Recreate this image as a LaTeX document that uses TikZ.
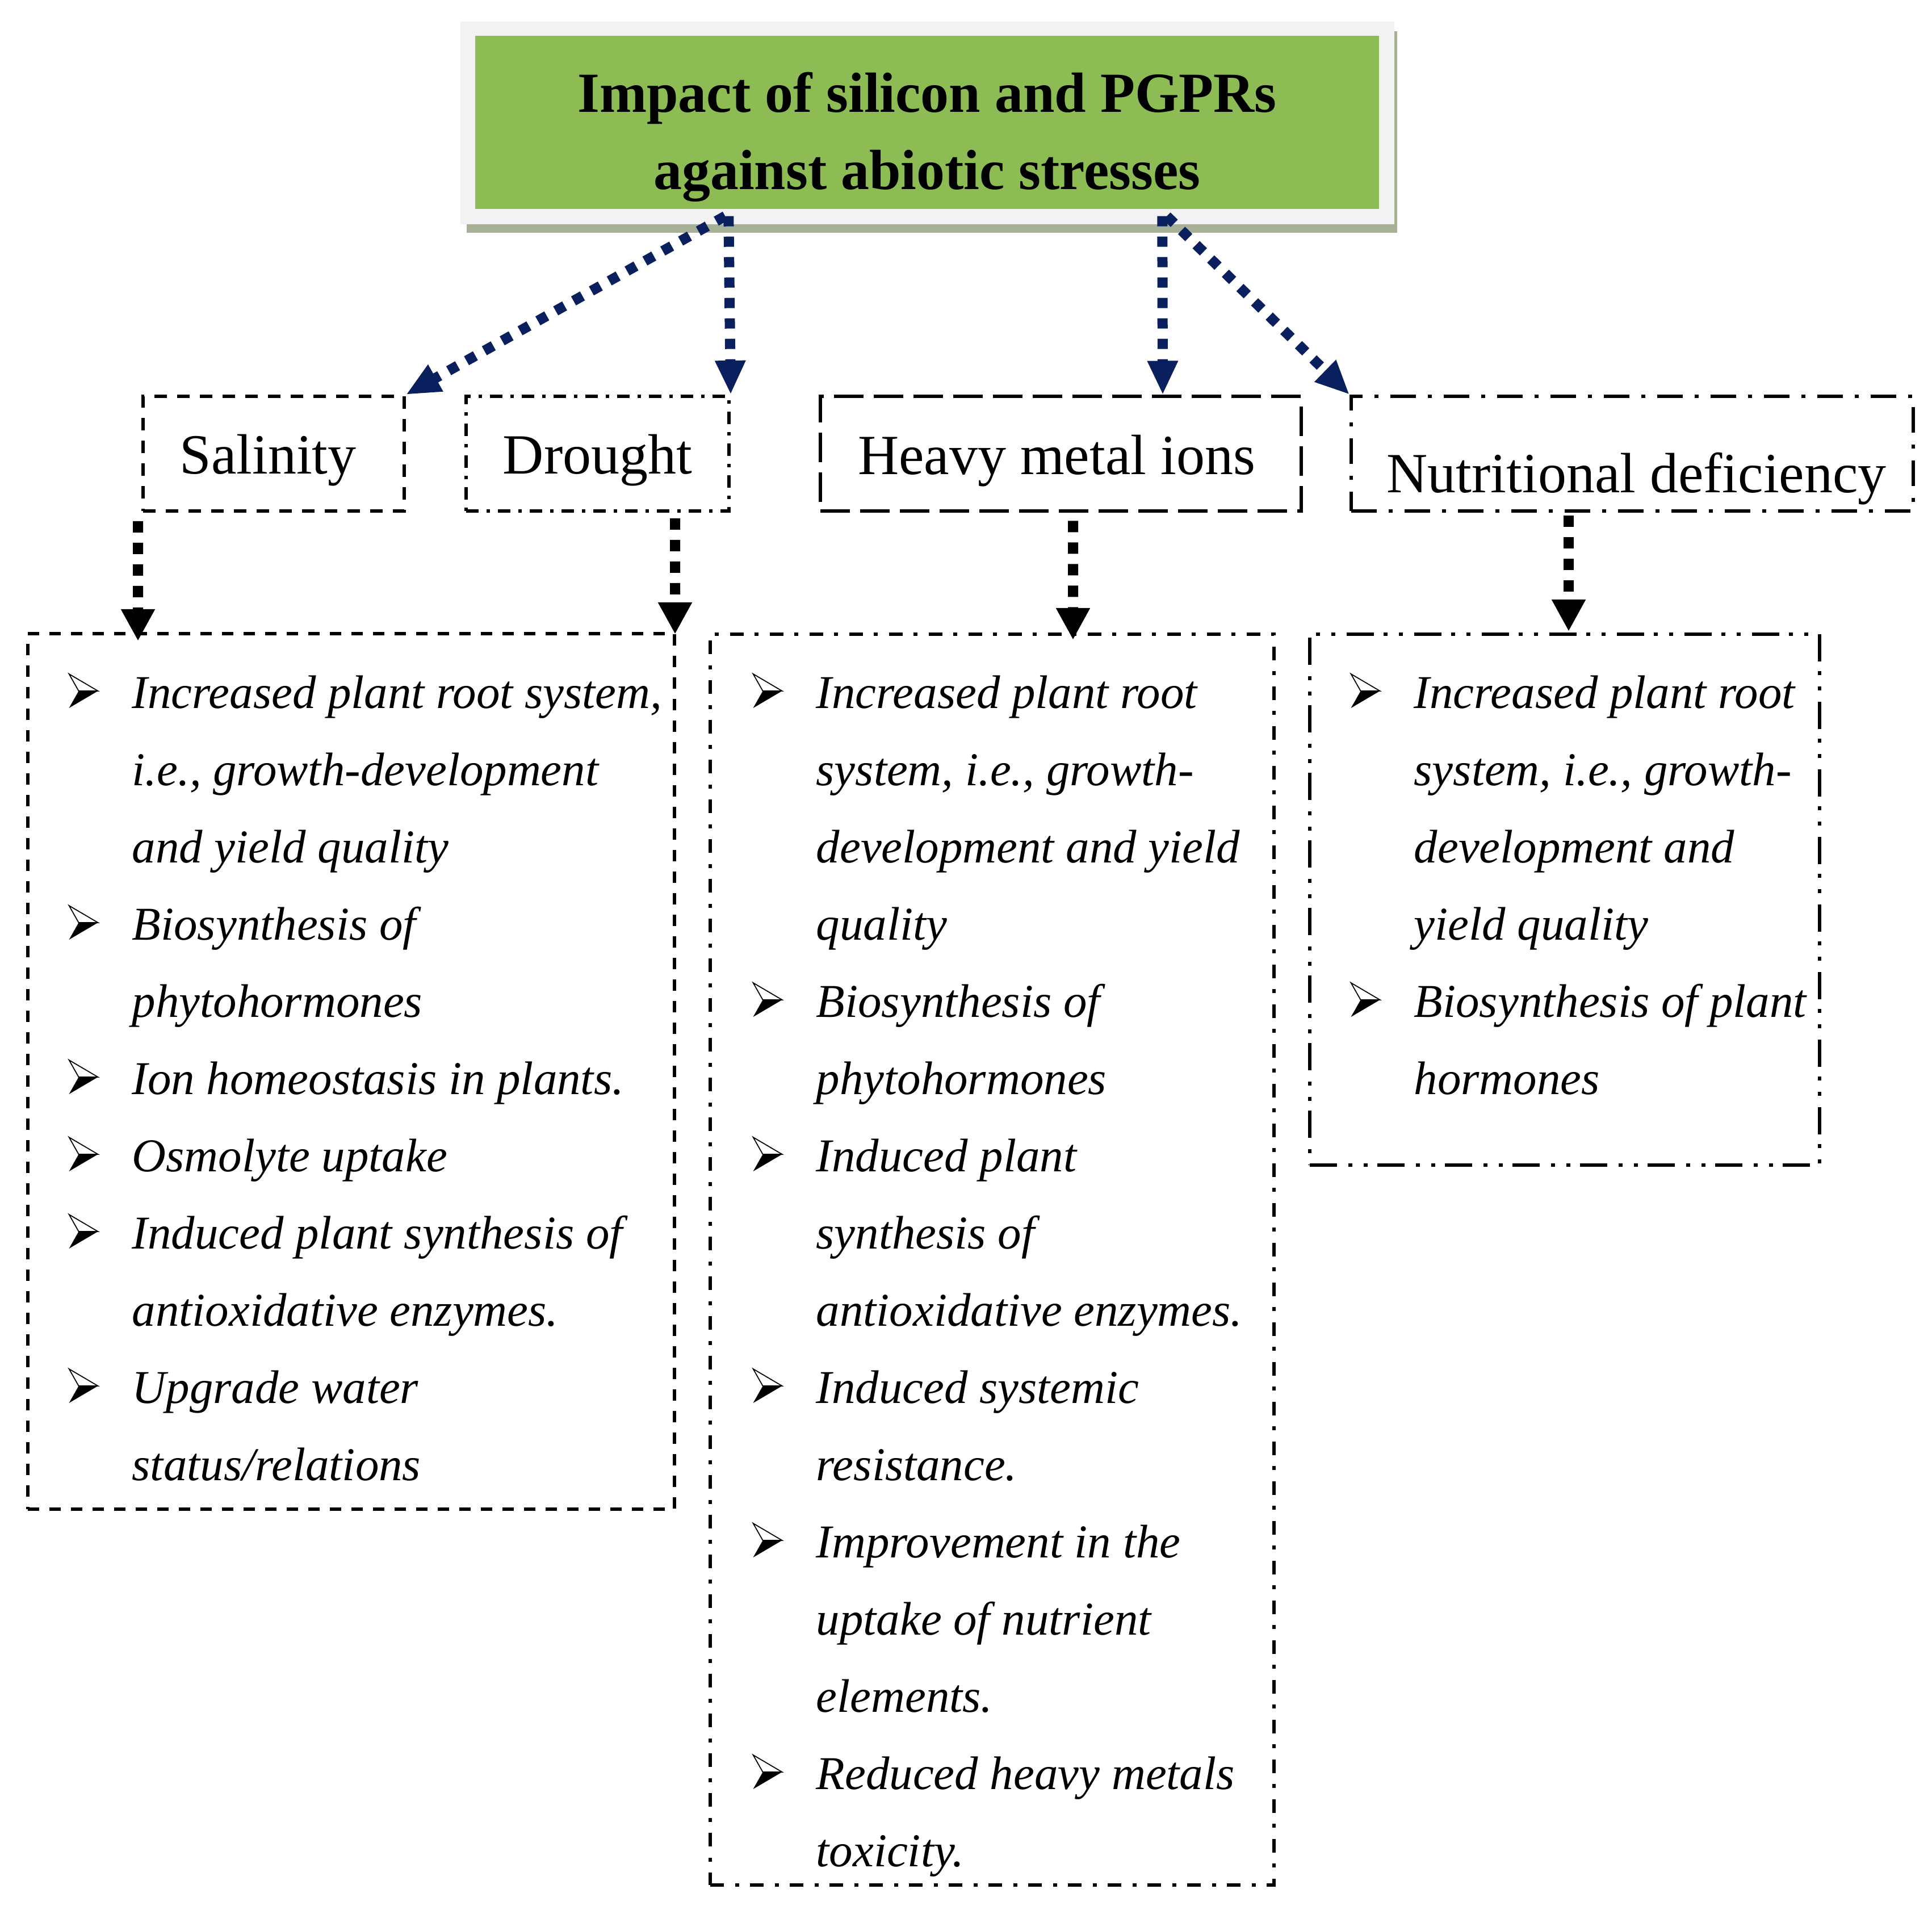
\documentclass[tikz,border=0pt]{standalone}
\usepackage{fontspec}
\setmainfont{Liberation Serif}
\usetikzlibrary{arrows.meta}
\definecolor{titlegreen}{HTML}{8DBB54}
\definecolor{titlegrey}{HTML}{F2F2F2}
\definecolor{shadowgreen}{HTML}{A5B094}
\definecolor{arrowblue}{HTML}{0A1F5E}
\newcommand{\bul}{\makebox[1.12cm][l]{\tikz[baseline=0pt,line width=0.5pt]{\draw[fill=white,line join=miter] (0,0.6)--(0.51,0.3)--(0.17,0.3)--cycle; \fill (0.17,0.3)--(0.51,0.3)--(0,0)--cycle;}}}
\newcommand{\ind}{\hspace*{1.12cm}}

\begin{document}
\begin{tikzpicture}
    \tikzstyle{stressbox}=[draw,line width=0.06cm,inner sep=0pt,minimum height=2.02cm,text height=0.72cm,text depth=0cm,font=\fontsize{28.45pt}{34pt}\selectfont]
    \tikzstyle{listbox}=[draw,line width=0.06cm,inner sep=0pt]
    \tikzstyle{listline}=[anchor=base west,inner sep=0pt,font=\fontsize{23.6pt}{38.7pt}\selectfont\itshape]
    \tikzstyle{bluearrow}=[draw=arrowblue,line width=0.18cm,dash pattern=on 0.18cm off 0.18cm,-{Triangle[length=0.6cm,width=0.5cm]}]
    \tikzstyle{blackarrow}=[draw=black,line width=0.18cm,dash pattern=on 0.2cm off 0.18cm,-{Triangle[length=0.56cm,width=0.56cm]}]

    \useasboundingbox (0,0) rectangle (34.03,-33.64);

    % title
    \node[fill=shadowgreen,minimum width=16.39cm,minimum height=3.55cm] (titleshadow) at (16.415,-2.325) {};
    \node[fill=titlegrey,minimum width=16.45cm,minimum height=3.57cm] (titlebg) at (16.335,-2.165) {};
    \node[fill=titlegreen,minimum width=15.92cm,minimum height=3.05cm] (title) at (16.33,-2.155) {};
    \node[align=center,font=\fontsize{28.4pt}{38.7pt}\selectfont\bfseries] (titletext) at (16.33,-2.41) {Impact of silicon and PGPRs\\against abiotic stresses};

    % stresses
    \node[stressbox,dash pattern=on 0.22cm off 0.18cm,minimum width=4.6cm] (salinity) at (4.82,-7.99) {Salinity\hspace*{0.2cm}};
    \node[stressbox,dash pattern=on 0.22cm off 0.14cm on 0.06cm off 0.14cm,minimum width=4.63cm] (drought) at (10.525,-7.99) {Drought};
    \node[stressbox,dash pattern=on 0.52cm off 0.18cm,minimum width=8.47cm] (heavy) at (18.685,-7.995) {Heavy metal ions\hspace*{0.15cm}};
    \node[stressbox,dash pattern=on 0.45cm off 0.21cm on 0.07cm off 0.21cm,minimum width=9.9cm,text height=1.38cm] (nutrition) at (28.75,-7.99) {\hspace*{0.15cm}Nutritional deficiency};

    % effect boxes
    \node[listbox,dash pattern=on 0.2cm off 0.18cm,minimum width=11.39cm,minimum height=15.42cm] (saltbox) at (6.185,-18.87) {};
    \node[listbox,dash pattern=on 0.24cm off 0.2cm on 0.07cm off 0.19cm,minimum width=9.93cm,minimum height=22.03cm] (metalbox) at (17.475,-22.185) {};
    \node[listbox,dash pattern=on 0.48cm off 0.2cm on 0.07cm off 0.2cm on 0.07cm off 0.17cm,minimum width=8.98cm,minimum height=9.35cm] (nutribox) at (27.56,-15.845) {};

    \foreach \txt [count=\i from 0] in {{\bul Increased plant root system,},{\ind i.e., growth-development},{\ind and yield quality},{\bul Biosynthesis of},{\ind phytohormones},{\bul Ion homeostasis in plants.},{\bul Osmolyte uptake},{\bul Induced plant synthesis of},{\ind antioxidative enzymes.},{\bul Upgrade water},{\ind status/relations}}
        \node[listline] (salt-\i) at (1.20,{-12.47-1.36*\i}) {\txt};

    \foreach \txt [count=\i from 0] in {{\bul Increased plant root},{\ind system, i.e., growth-},{\ind development and yield},{\ind quality},{\bul Biosynthesis of},{\ind phytohormones},{\bul Induced plant},{\ind synthesis of},{\ind antioxidative enzymes.},{\bul Induced systemic},{\ind resistance.},{\bul Improvement in the},{\ind uptake of nutrient},{\ind elements.},{\bul Reduced heavy metals},{\ind toxicity.}}
        \node[listline] (metal-\i) at (13.25,{-12.47-1.36*\i}) {\txt};

    \foreach \txt [count=\i from 0] in {{\bul Increased plant root},{\ind system, i.e., growth-},{\ind development and},{\ind yield quality},{\bul Biosynthesis of plant},{\ind hormones}}
        \node[listline] (nutri-\i) at (23.78,{-12.47-1.36*\i}) {\txt};

    % arrows
    \draw[bluearrow] ([xshift=4.67cm,yshift=0.15cm]titlebg.south west) -- (salinity.north east);
    \draw[bluearrow] ([xshift=4.73cm,yshift=0.15cm]titlebg.south west) -- (drought.north east);
    \draw[bluearrow] ([xshift=12.37cm,yshift=0.15cm]titlebg.south west) -- ([xshift=1.795cm]heavy.north);
    \draw[bluearrow] ([xshift=12.45cm,yshift=0.15cm]titlebg.south west) -- (nutrition.north west);

    \draw[blackarrow] ([xshift=-0.06cm,yshift=-0.15cm]salinity.south west) -- ([xshift=1.97cm,yshift=-0.16cm]saltbox.north west);
    \draw[blackarrow] ([xshift=-0.98cm,yshift=-0.1cm]drought.south east) -- ([xshift=-0.02cm,yshift=-0.04cm]saltbox.north east);
    \draw[blackarrow] ([xshift=0.215cm,yshift=-0.14cm]heavy.south) -- ([xshift=1.425cm,yshift=-0.13cm]metalbox.north);
    \draw[blackarrow] ([xshift=-1.12cm,yshift=-0.05cm]nutrition.south) -- ([xshift=0.07cm,yshift=0.02cm]nutribox.north);
\end{tikzpicture}
\end{document}
